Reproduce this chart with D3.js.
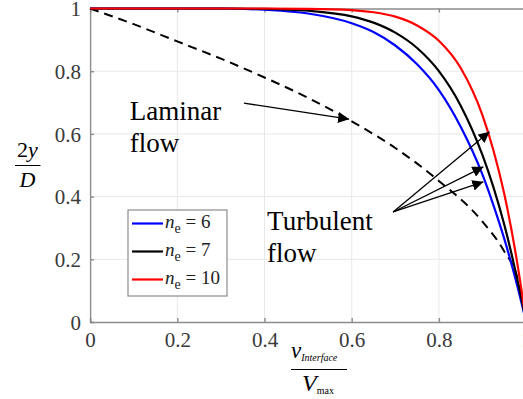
<!DOCTYPE html>
<html>
<head>
<meta charset="utf-8">
<script src="https://cdn.jsdelivr.net/npm/d3@7"></script>
</head>
<body style="margin:0">
<svg id="chart" width="523" height="399" font-family="Liberation Serif"></svg>
<script>
// values
const xs      = [0, 0.1, 0.2, 0.3, 0.4, 0.5, 0.6, 0.65, 0.7, 0.75, 0.8, 0.85, 0.9, 0.925, 0.95, 0.98, 0.99, 1];
const ne6     = [1, 1, 1, 1, 0.996, 0.984, 0.953, 0.925, 0.882, 0.822, 0.74, 0.623, 0.47, 0.373, 0.265, 0.114, 0.058, 0];
const ne7     = [1, 1, 1, 1, 0.999, 0.993, 0.975, 0.955, 0.923, 0.874, 0.80, 0.69, 0.532, 0.43, 0.31, 0.135, 0.07, 0];
const ne10    = [1, 1, 1, 1, 1, 0.999, 0.995, 0.988, 0.974, 0.946, 0.897, 0.81, 0.659, 0.548, 0.408, 0.186, 0.097, 0];
const lamX    = [0, 0.1, 0.2, 0.3, 0.4, 0.5, 0.6, 0.7, 0.8, 0.9, 0.95, 0.98, 1];
const laminar = [1, 0.95, 0.895, 0.84, 0.78, 0.715, 0.64, 0.555, 0.45, 0.32, 0.225, 0.14, 0];
const xTicks  = [0, 0.2, 0.4, 0.6, 0.8, 1];
const yTicks  = [0, 0.2, 0.4, 0.6, 0.8, 1];
const seriesNames  = ["6", "7", "10"];
const seriesColors = ["#0000ff", "#000000", "#ff0000"];

const svg = d3.select("#chart");

const x = d3.scaleLinear().domain([0, 1]).range([90.1, 526.1]);
const y = d3.scaleLinear().domain([0, 1]).range([322, 8.5]);

const FONT = "Times New Roman";
const gray = "#8c8c8c";

// grid
svg.append("g").selectAll("line")
  .data(xTicks.slice(1, -1)).enter().append("line")
  .attr("x1", d => x(d)).attr("x2", d => x(d))
  .attr("y1", y(0)).attr("y2", y(1))
  .attr("stroke", "#e8e8e8").attr("stroke-width", 1);
svg.append("g").selectAll("line")
  .data(yTicks.slice(1, -1)).enter().append("line")
  .attr("x1", x(0)).attr("x2", x(1))
  .attr("y1", d => y(d)).attr("y2", d => y(d))
  .attr("stroke", "#e8e8e8").attr("stroke-width", 1);

// axes, ticks pointing in
const xAxis = svg.append("g")
  .attr("transform", `translate(0, ${y(0)})`)
  .call(d3.axisBottom(x).tickValues(xTicks).tickSize(-4).tickPadding(10).tickFormat(d3.format("")));
const yAxis = svg.append("g")
  .attr("transform", `translate(${x(0)}, 0)`)
  .call(d3.axisLeft(y).tickValues(yTicks).tickSize(-4).tickPadding(9).tickFormat(d3.format("")));
const topAxis = svg.append("g")
  .attr("transform", `translate(0, ${y(1)})`)
  .call(d3.axisTop(x).tickValues(xTicks).tickSize(-4).tickFormat(""));

[xAxis, yAxis, topAxis].forEach(a => {
  a.attr("font-family", null).attr("font-size", 21);
  a.select(".domain").attr("stroke", gray).attr("stroke-width", 1.4);
  a.selectAll(".tick line").attr("stroke", gray).attr("stroke-width", 1.4);
  a.selectAll("text").attr("fill", "#3a3a3a");
});
yAxis.selectAll("text").attr("dy", "0.34em");

// curves
const line = d3.line()
  .x(d => x(d[0]))
  .y(d => y(d[1]))
  .curve(d3.curveMonotoneX);

svg.append("path")
  .datum(lamX.map((v, i) => [v, laminar[i]]))
  .attr("d", line)
  .attr("fill", "none")
  .attr("stroke", "#000")
  .attr("stroke-width", 2)
  .attr("stroke-dasharray", "9,6");

[ne6, ne7, ne10].forEach((vals, k) => {
  svg.append("path")
    .datum(xs.map((v, i) => [v, vals[i]]))
    .attr("d", line)
    .attr("fill", "none")
    .attr("stroke", seriesColors[k])
    .attr("stroke-width", 2.2);
});

// arrows
svg.append("defs").append("marker")
  .attr("id", "head")
  .attr("viewBox", "0 0 10 10")
  .attr("refX", 10).attr("refY", 5)
  .attr("markerWidth", 11).attr("markerHeight", 11)
  .attr("markerUnits", "userSpaceOnUse")
  .attr("orient", "auto")
  .append("path").attr("d", "M0,0 L10,5 L0,10 Z").attr("fill", "#000");

const arrows = [
  [[0.353, 0.698], [0.594, 0.647]],
  [[0.695, 0.351], [0.916, 0.607]],
  [[0.695, 0.351], [0.902, 0.495]],
  [[0.695, 0.351], [0.902, 0.447]]
];
svg.append("g").selectAll("line")
  .data(arrows).enter().append("line")
  .attr("x1", d => x(d[0][0])).attr("y1", d => y(d[0][1]))
  .attr("x2", d => x(d[1][0])).attr("y2", d => y(d[1][1]))
  .attr("stroke", "#000").attr("stroke-width", 1.3)
  .attr("marker-end", "url(#head)");

const labels = [
  ["Laminar", 0.091, 0.644],
  ["flow", 0.091, 0.542],
  ["Turbulent", 0.406, 0.294],
  ["flow", 0.406, 0.192]
];
svg.append("g").selectAll("text")
  .data(labels).enter().append("text")
  .attr("x", d => x(d[1])).attr("y", d => y(d[2]))
  .attr("font-size", 27).attr("fill", "#000")
  .text(d => d[0]);

// legend
const legend = svg.append("g").attr("transform", "translate(128, 210)");
legend.append("rect")
  .attr("width", 99).attr("height", 86)
  .attr("fill", "#fff").attr("stroke", "#8c8c8c").attr("stroke-width", 1.2);
seriesNames.forEach((name, i) => {
  const ly = 13.5 + i * 28;
  legend.append("line")
    .attr("x1", 4).attr("x2", 35).attr("y1", ly).attr("y2", ly)
    .attr("stroke", seriesColors[i]).attr("stroke-width", 2.2);
  const t = legend.append("text").attr("x", 37).attr("y", ly + 4)
    .attr("font-size", 19).attr("fill", "#222");
  t.append("tspan").attr("font-style", "italic").text("n");
  t.append("tspan").attr("font-size", 14).attr("dy", 5).text("e");
  t.append("tspan").attr("dy", -5).text(" = " + name);
});

// y label 2y / D
const t1 = svg.append("text").attr("x", 27.5).attr("y", 157).attr("text-anchor", "middle")
  .attr("font-size", 22);
t1.append("tspan").text("2");
t1.append("tspan").attr("font-style", "italic").text("y");
svg.append("line").attr("x1", 15).attr("x2", 40.5).attr("y1", 165.5).attr("y2", 165.5)
  .attr("stroke", "#000").attr("stroke-width", 1);
svg.append("text").attr("x", 27.5).attr("y", 187).attr("text-anchor", "middle")
  .attr("font-size", 22).attr("font-style", "italic").text("D");

// x label v_Interface / V_max
const t2 = svg.append("text").attr("x", 291).attr("y", 358).attr("font-size", 23);
t2.append("tspan").attr("font-style", "italic").text("v");
t2.append("tspan").attr("font-style", "italic").attr("font-size", 10).attr("dy", 3).text("Interface");
svg.append("line").attr("x1", 291).attr("x2", 347).attr("y1", 369.5).attr("y2", 369.5)
  .attr("stroke", "#000").attr("stroke-width", 1);
const t3 = svg.append("text").attr("x", 302).attr("y", 391).attr("font-size", 24);
t3.append("tspan").attr("font-style", "italic").text("V");
t3.append("tspan").attr("font-size", 10).attr("dy", 3).text("max");

// one serif face on every text
svg.selectAll("text").style("font-family", () => `"${FONT}"`);
</script>
</body>
</html>
